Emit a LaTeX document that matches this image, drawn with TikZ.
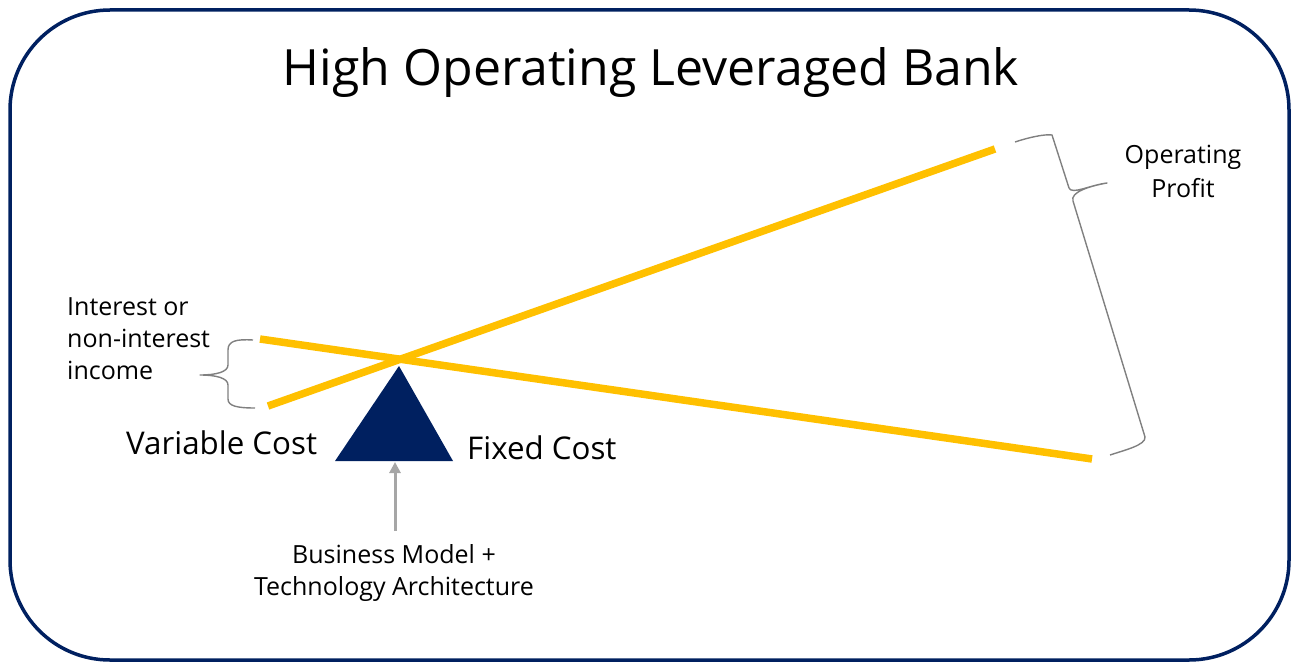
\documentclass[tikz,border=0pt]{standalone}
\usepackage{fontspec}
\setmainfont{Open Sans}
\usetikzlibrary{arrows.meta}
\definecolor{navy}{HTML}{002060}
\definecolor{gold}{HTML}{FFC000}
\definecolor{braceg}{HTML}{808080}
\definecolor{arrowg}{HTML}{A6A6A6}
\begin{document}
\begin{tikzpicture}[x=1pt,y=-1pt,
  beam/.style={gold,line width=7.5pt},
  bracestyle/.style={braceg,line width=1.4pt,line join=round},
  lbl/.style={inner sep=0pt,font=\fontsize{25}{32}\selectfont,text=black},
  biglbl/.style={inner sep=0pt,font=\fontsize{31.3}{34}\selectfont,text=black}]
\useasboundingbox (0,0) rectangle (1295,666);
\draw[navy,line width=3.5pt,rounded corners=100pt] (10,10) rectangle (1289,660);
\node[inner sep=0pt,font=\fontsize{50}{60}\selectfont,anchor=base] (title) at (651,86) {High Operating Leveraged Bank};
% beams
\coordinate (r1) at (268,406); \coordinate (r2) at (995,149);
\coordinate (f1) at (260,339); \coordinate (f2) at (1092,459);
\draw[beam] (r1) -- (r2);
\draw[beam] (f1) -- (f2);
% fulcrum
\coordinate (apex) at (399,366);
\coordinate (bl) at (335,461);
\coordinate (br) at (453,461);
\fill[navy] (apex) -- (bl) -- (br) -- cycle;
% labels
\node[biglbl,anchor=west] (vc) at (126,443) {Variable Cost};
\node[biglbl,anchor=west] (fc) at (467,448) {Fixed Cost};
\node[lbl,anchor=base] (bm1) at (394,563) {Business Model +};
\node[lbl,anchor=base] (bm2) at (394,595) {Technology Architecture};
\coordinate (bmtop) at (395,531);
\coordinate (tribase) at (395,462);
\draw[arrowg,line width=3pt,-{Triangle[length=11pt,width=11pt]}] (bmtop) -- (tribase);
\node[lbl,anchor=base west] (inc1) at (67,315) {Interest or};
\node[lbl,anchor=base west] (inc2) at (67,347) {non-interest};
\node[lbl,anchor=base west] (inc3) at (67,379) {income};
\node[lbl,anchor=base] (op1) at (1183,164) {Operating};
\node[lbl,anchor=base] (op2) at (1183,197) {Profit};
% left brace
\draw[bracestyle] (253,340) .. controls (236,339) and (228,341) .. (228,350) -- (228,365) .. controls (228,372) and (216,375) .. (200,375) .. controls (216,375) and (228,378) .. (228,385) -- (228,399) .. controls (228,406) and (237,408) .. (255,408);
% right brace
\draw[bracestyle] (1015,142) .. controls (1030,137) and (1045,134) .. (1052,135) -- (1069,188) .. controls (1072,195) and (1090,185) .. (1107,183) .. controls (1090,186) and (1070,192) .. (1073,201) -- (1145,437) .. controls (1146,445) and (1125,450) .. (1110,455);
\end{tikzpicture}
\end{document}
